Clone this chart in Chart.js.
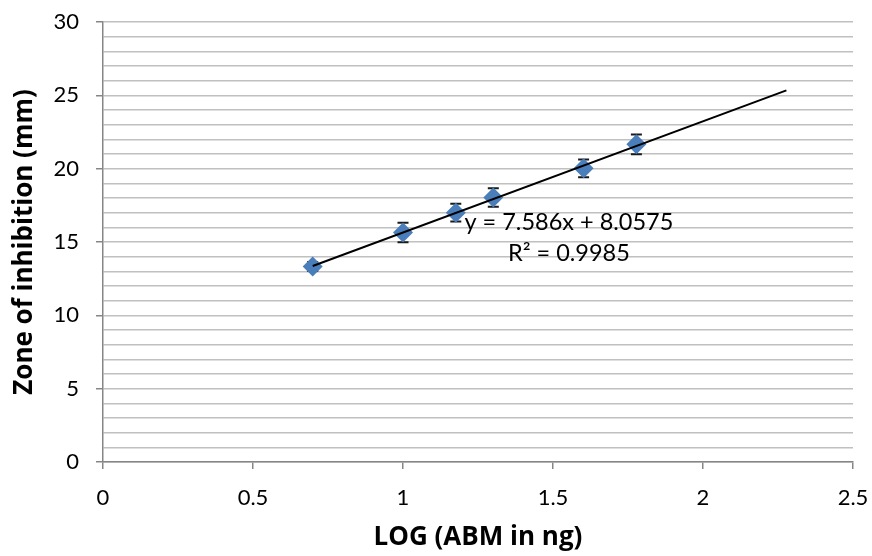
<!DOCTYPE html>
<html>
<head>
<meta charset="utf-8">
<script src="https://cdn.jsdelivr.net/npm/chart.js@4/dist/chart.umd.min.js"></script>
<style>
  html, body { margin: 0; padding: 0; background: #fff; }
  #wrap { width: 872px; height: 556px; }
</style>
</head>
<body>
<div id="wrap"><canvas id="chart" width="872" height="556"></canvas></div>
<script>
// values
const logDose = [0.699, 1.0, 1.176, 1.301, 1.602, 1.778];
const zoneMm = [13.33, 15.65, 17.0, 18.03, 20.02, 21.66];
const zoneErr = [0.3, 0.66, 0.6, 0.63, 0.61, 0.67];

// linear trendline end points (Excel trendline, forward forecast)
const trendX = [0.699, 2.278];
const trendY = [13.36, 25.34];

const equationLines = ['y = 7.586x + 8.0575', 'R\u00B2 = 0.9985'];

const FONT = 'Lato, "Open Sans", sans-serif';
const TITLE_FONT = '"Open Sans", Lato, sans-serif';
const AXIS_GREY = '#868686';

// error bars, drawn under the markers
const errorBarsPlugin = {
  id: 'errorBars',
  beforeDatasetsDraw(chart) {
    const { ctx, scales: { x, y } } = chart;
    ctx.save();
    ctx.strokeStyle = '#1a1a1a';
    ctx.lineWidth = 2;
    logDose.forEach((v, i) => {
      const px = x.getPixelForValue(v);
      const top = y.getPixelForValue(zoneMm[i] + zoneErr[i]);
      const bot = y.getPixelForValue(zoneMm[i] - zoneErr[i]);
      ctx.beginPath();
      ctx.moveTo(px, top); ctx.lineTo(px, bot);
      ctx.moveTo(px - 5.5, top); ctx.lineTo(px + 5.5, top);
      ctx.moveTo(px - 5.5, bot); ctx.lineTo(px + 5.5, bot);
      ctx.stroke();
    });
    ctx.restore();
  }
};

// trendline equation label
const equationPlugin = {
  id: 'equation',
  afterDatasetsDraw(chart) {
    const { ctx, scales: { x, y } } = chart;
    ctx.save();
    ctx.fillStyle = '#000';
    ctx.font = '23.5px ' + FONT;
    ctx.textAlign = 'center';
    ctx.textBaseline = 'alphabetic';
    const cx = x.getPixelForValue(1.553);
    ctx.fillText(equationLines[0], cx, y.getPixelForValue(15.85));
    ctx.fillText(equationLines[1], cx, y.getPixelForValue(13.7));
    ctx.restore();
  }
};

new Chart(document.getElementById('chart').getContext('2d'), {
  type: 'scatter',
  data: {
    datasets: [
      {
        label: 'Trend',
        type: 'line',
        data: trendX.map((v, i) => ({ x: v, y: trendY[i] })),
        borderColor: '#000',
        borderWidth: 2,
        pointRadius: 0,
        fill: false,
        order: 0
      },
      {
        label: 'Zone of inhibition',
        data: logDose.map((v, i) => ({ x: v, y: zoneMm[i] })),
        pointStyle: 'rectRot',
        pointRadius: 10,
        pointHoverRadius: 10,
        backgroundColor: '#4a7ebb',
        borderColor: '#4a7ebb',
        borderWidth: 0,
        order: 1
      }
    ]
  },
  options: {
    responsive: false,
    animation: false,
    layout: { padding: { top: 22, right: 19, left: 0, bottom: 0 } },
    plugins: {
      legend: { display: false },
      tooltip: { enabled: false }
    },
    scales: {
      x: {
        type: 'linear',
        min: 0,
        max: 2.5,
        afterFit: (s) => { s.height = 94; s.paddingLeft = 0; s.paddingRight = 0; },
        border: { display: true, color: AXIS_GREY, width: 1.5 },
        grid: {
          drawOnChartArea: false,
          drawTicks: true,
          tickLength: 7,
          tickColor: AXIS_GREY,
          lineWidth: 1.5
        },
        ticks: {
          stepSize: 0.5,
          padding: 16,
          color: '#000',
          font: { family: FONT, size: 22 },
          maxRotation: 0,
          callback: (v) => String(v)
        },
        title: {
          display: true,
          text: 'LOG (ABM in ng)',
          color: '#000',
          font: { family: TITLE_FONT, size: 26, weight: 'bold' },
          padding: { top: 0, bottom: 3 }
        }
      },
      y: {
        min: 0,
        max: 30,
        afterFit: (s) => { s.width = 103; s.paddingTop = 0; s.paddingBottom = 0; },
        border: { display: true, color: AXIS_GREY, width: 1.5 },
        grid: {
          color: '#c0c0c0',
          lineWidth: 1.5,
          drawTicks: true,
          tickLength: 7,
          tickColor: (c) => (c.tick && c.tick.value % 5 === 0 ? AXIS_GREY : 'rgba(0,0,0,0)')
        },
        ticks: {
          stepSize: 1,
          padding: 17,
          color: '#000',
          font: { family: FONT, size: 22 },
          autoSkip: false,
          callback: (v) => (v % 5 === 0 ? v : '')
        },
        title: {
          display: true,
          text: 'Zone of inhibition (mm)',
          color: '#000',
          font: { family: TITLE_FONT, size: 26, weight: 'bold' },
          padding: { top: 9, bottom: 0 }
        }
      }
    }
  },
  plugins: [errorBarsPlugin, equationPlugin]
});
</script>
</body>
</html>
